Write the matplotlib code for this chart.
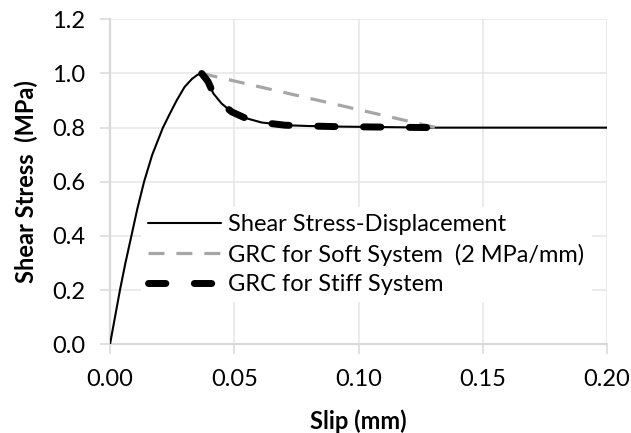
import matplotlib
matplotlib.use("Agg")
import matplotlib.pyplot as plt

plt.rcParams['font.family'] = ['Lato', 'DejaVu Sans']
plt.rcParams['lines.scale_dashes'] = False

# Shear stress - slip response (MPa vs mm)
slip = [0.0, 0.0020, 0.0040, 0.0062, 0.0086, 0.0110, 0.0137, 0.0170, 0.0213,
        0.0240, 0.0268, 0.0300, 0.0330, 0.0352, 0.0369,
        0.0382, 0.0395, 0.0416, 0.0449, 0.0490, 0.0543, 0.0610, 0.0704, 0.0800,
        0.0900, 0.1000, 0.1100, 0.1200, 0.1314, 0.1500, 0.2000]
stress = [0.0, 0.100, 0.200, 0.300, 0.400, 0.500, 0.600, 0.700, 0.800,
          0.850, 0.900, 0.950, 0.980, 0.995, 1.000,
          0.985, 0.969, 0.926, 0.889, 0.858, 0.836, 0.819, 0.809, 0.806,
          0.804, 0.803, 0.802, 0.801, 0.800, 0.800, 0.800]

# Ground reaction curve, soft system (straight unloading line)
soft_slip = [0.0369, 0.1314]
soft_stress = [1.000, 0.800]

# Ground reaction curve, stiff system (follows the softening branch)
stiff_slip = [0.0369, 0.0382, 0.0395, 0.0416, 0.0449, 0.0490, 0.0543, 0.0610,
              0.0704, 0.0800, 0.0900, 0.1000, 0.1100, 0.1200, 0.1314]
stiff_stress = [1.000, 0.985, 0.969, 0.926, 0.889, 0.858, 0.836, 0.819,
                0.809, 0.806, 0.804, 0.803, 0.802, 0.801, 0.800]

x_ticks = [0.00, 0.05, 0.10, 0.15, 0.20]
y_ticks = [0.0, 0.2, 0.4, 0.6, 0.8, 1.0, 1.2]

fig = plt.figure(figsize=(6.31, 4.33), dpi=100)
ax = fig.add_axes([110 / 631, 1 - 344.3 / 433, 497 / 631, 325 / 433])

ax.plot(slip, stress, color='black', lw=1.5, solid_capstyle='round',
        solid_joinstyle='round', label='Shear Stress-Displacement', zorder=3)
ax.plot(soft_slip, soft_stress, color='#a6a6a6', lw=2.3,
        dashes=(11.5, 8.6), dash_capstyle='butt',
        label='GRC for Soft System  (2 MPa/mm)', zorder=4)
ax.plot(stiff_slip, stiff_stress, color='black', lw=5.0,
        dashes=(12.5, 20.5), dash_capstyle='round', dash_joinstyle='round',
        label='GRC for Stiff System', zorder=5)

ax.set_xlim(0, 0.20)
ax.set_ylim(0, 1.2)
ax.set_xticks(x_ticks)
ax.set_yticks(y_ticks)
ax.set_xticklabels([f"{v:.2f}" for v in x_ticks])
ax.set_yticklabels([f"{v:.1f}" for v in y_ticks])

ax.grid(True, color='#e6e6e6', lw=1.1, zorder=0)
ax.set_axisbelow(True)
for side in ('top', 'right'):
    ax.spines[side].set_visible(False)
for side in ('left', 'bottom'):
    ax.spines[side].set_color('#d9d9d9')
    ax.spines[side].set_linewidth(1.6)

ax.tick_params(axis='both', direction='out', length=7, width=1.1,
               color='#d9d9d9', labelsize=17, labelcolor='black', pad=11)

ax.set_xlabel('Slip (mm)', fontsize=17, fontweight='bold', labelpad=14)
ax.set_ylabel('Shear Stress  (MPa)', fontsize=17, fontweight='bold', labelpad=10)

leg = ax.legend(loc='upper left', bbox_to_anchor=(141 / 631, 1 - 207 / 433),
                bbox_transform=fig.transFigure, fontsize=17, frameon=True,
                facecolor='white', edgecolor='none', framealpha=1,
                fancybox=False, handlelength=3.1, handletextpad=0.3,
                labelspacing=0.36, borderpad=0.3, borderaxespad=0)
leg.set_zorder(2)

fig.savefig('out.png', dpi=100)
